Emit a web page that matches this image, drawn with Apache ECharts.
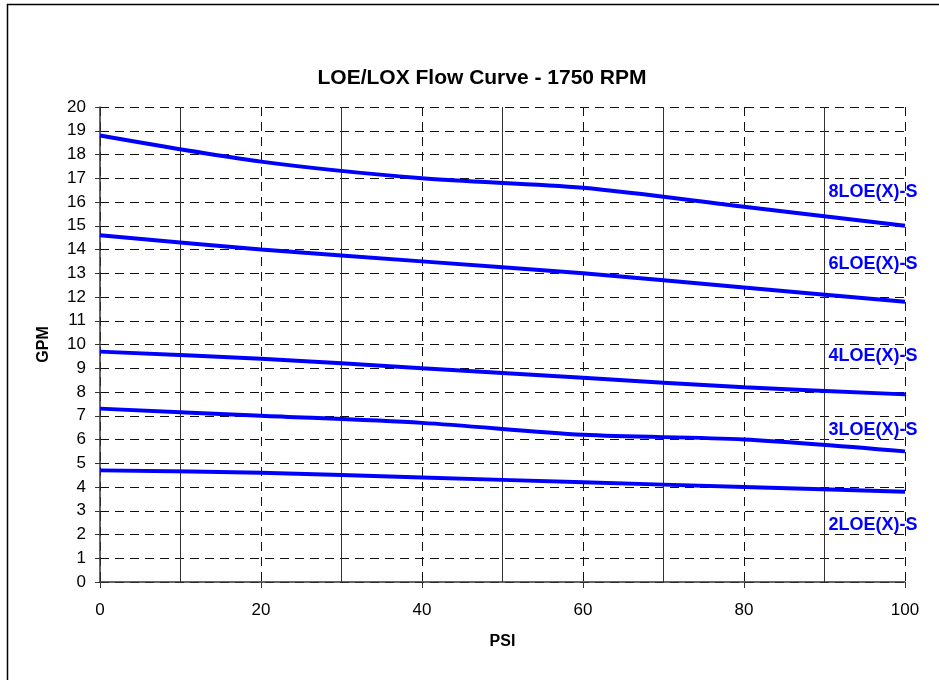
<!DOCTYPE html>
<html>
<head>
<meta charset="utf-8">
<script src="https://cdn.jsdelivr.net/npm/echarts@6/dist/echarts.min.js"></script>
<style>
html,body{margin:0;padding:0;background:#fff;}
#c{width:939px;height:680px;}
</style>
</head>
<body>
<div id="c"></div>
<script>
var psi = [0, 20, 40, 60, 80, 100];
var seriesNames = ['8LOE(X)-S', '6LOE(X)-S', '4LOE(X)-S', '3LOE(X)-S', '2LOE(X)-S'];
var gpm8 = [18.8, 17.7, 17.0, 16.6, 15.8, 15.0];
var gpm6 = [14.6, 14.0, 13.5, 13.0, 12.4, 11.8];
var gpm4 = [9.7, 9.4, 9.0, 8.6, 8.2, 7.9];
var gpm3 = [7.3, 7.0, 6.7, 6.2, 6.0, 5.5];
var gpm2 = [4.7, 4.6, 4.4, 4.2, 4.0, 3.8];
var labelGpm = [16.4, 13.4, 9.5, 6.4, 2.4];

var allValues = [gpm8, gpm6, gpm4, gpm3, gpm2];
var FONT = 'Liberation Sans, Arial, sans-serif';

var chart = echarts.init(document.getElementById('c'));
var series = allValues.map(function (vals, i) {
  return {
    name: seriesNames[i],
    type: 'line',
    smooth: 0.3,
    showSymbol: false,
    symbol: 'none',
    lineStyle: { color: '#0000FF', width: 4 },
    data: psi.map(function (p, j) { return [p, vals[j]]; }),
    markPoint: {
      symbol: 'circle',
      symbolSize: 1,
      itemStyle: { color: 'rgba(0,0,0,0)' },
      label: {
        show: true,
        position: 'left',
        distance: 0,
        offset: [13, 0],
        color: '#0000FF',
        fontWeight: 'bold',
        fontSize: 18,
        fontFamily: FONT,
        formatter: seriesNames[i]
      },
      data: [{ coord: [100, labelGpm[i]] }]
    }
  };
});

chart.setOption({
  animation: false,
  backgroundColor: '#fff',
  title: {
    text: 'LOE/LOX Flow Curve - 1750 RPM',
    left: 477,
    top: 63,
    textAlign: 'center',
    textStyle: { fontFamily: FONT, fontWeight: 'bold', fontSize: 21, color: '#000' }
  },
  graphic: [{
    type: 'rect',
    shape: { x: 7.5, y: 4.5, width: 960, height: 700 },
    style: { fill: 'none', stroke: '#000', lineWidth: 1.5 },
    silent: true
  }],
  grid: { left: 100, right: 34, top: 107, bottom: 98 },
  xAxis: {
    type: 'value',
    min: 0, max: 100, interval: 20,
    name: 'PSI',
    nameLocation: 'middle',
    nameGap: 52,
    nameTextStyle: { fontFamily: FONT, fontWeight: 'bold', fontSize: 16, color: '#000' },
    axisLine: { show: true, lineStyle: { color: '#333', width: 1.5 } },
    axisTick: { show: true, length: 6, lineStyle: { color: '#333' } },
    axisLabel: { fontFamily: FONT, fontSize: 17, color: '#000', margin: 20 },
    splitLine: { show: true, lineStyle: { color: '#111', type: [9, 6], width: 1 } },
    minorTick: { show: false, splitNumber: 2 },
    minorSplitLine: { show: true, lineStyle: { color: '#333', width: 1 } }
  },
  yAxis: {
    type: 'value',
    min: 0, max: 20, interval: 1,
    name: 'GPM',
    nameLocation: 'middle',
    nameGap: 48,
    nameTextStyle: { fontFamily: FONT, fontWeight: 'bold', fontSize: 16, color: '#000' },
    axisLine: { show: true, lineStyle: { color: '#333', width: 1.5 } },
    axisTick: { show: true, length: 5, lineStyle: { color: '#333' } },
    axisLabel: { fontFamily: FONT, fontSize: 17, color: '#000', margin: 14 },
    splitLine: { show: true, lineStyle: { color: '#111', type: [9, 6], width: 1 } }
  },
  series: series
});
</script>
</body>
</html>
